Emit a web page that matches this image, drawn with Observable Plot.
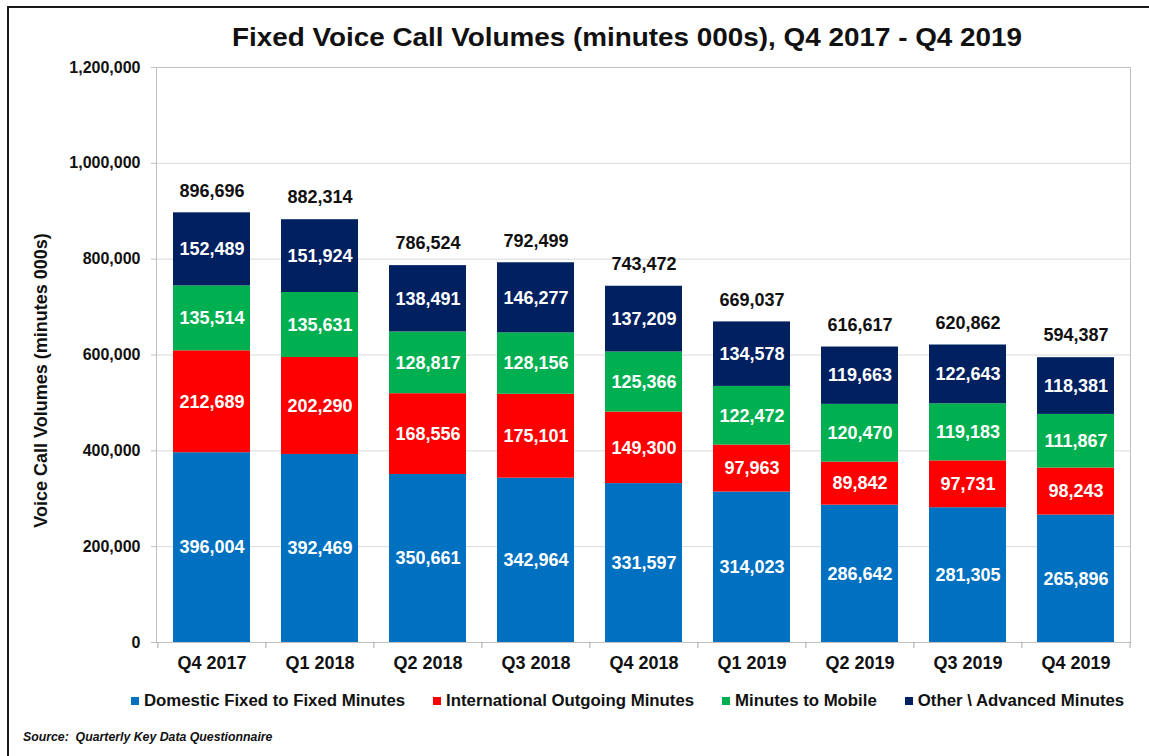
<!DOCTYPE html>
<html>
<head>
<meta charset="utf-8">
<script src="https://cdn.jsdelivr.net/npm/d3@7"></script>
<script src="https://cdn.jsdelivr.net/npm/@observablehq/plot@0.6"></script>
<style>
  html, body { margin: 0; padding: 0; background: #fff; }
  #wrap { position: relative; width: 1149px; height: 756px; overflow: hidden; font-family: "Liberation Sans", Arial, sans-serif; color: #111; }
  #frame { position: absolute; left: 7px; top: 6px; width: 1200px; height: 800px; border: 2px solid #1a1a1a; }
  #title { position: absolute; left: 232px; top: 22px; font-size: 25px; line-height: 30px; font-weight: bold; white-space: nowrap; transform-origin: 0 0; }
  #chart { position: absolute; left: 0; top: 55px; }
  #legend { position: absolute; left: 131px; top: 691px; display: flex; align-items: center; gap: 28px; font-size: 16.8px; font-weight: bold; line-height: 20px; white-space: nowrap; }
  .item { display: flex; align-items: center; }
  .sw { width: 8px; height: 8px; margin-right: 5px; }
  #source { position: absolute; left: 23px; top: 730px; font-size: 12.3px; line-height: 14px; font-weight: bold; font-style: italic; white-space: nowrap; }
</style>
</head>
<body>
<div id="wrap">
  <div id="frame"></div>
  <div id="title">Fixed Voice Call Volumes (minutes 000s), Q4 2017 - Q4 2019</div>
  <div id="chart"></div>
  <div id="legend"></div>
  <div id="source">Source:&nbsp; Quarterly Key Data Questionnaire</div>
</div>
<script>
const quarters = ["Q4 2017", "Q1 2018", "Q2 2018", "Q3 2018", "Q4 2018", "Q1 2019", "Q2 2019", "Q3 2019", "Q4 2019"];
const seriesNames = ["Domestic Fixed to Fixed Minutes", "International Outgoing Minutes", "Minutes to Mobile", "Other \\ Advanced Minutes"];
const seriesColors = ["#0070C0", "#FF0000", "#00B050", "#002060"];
const domestic = [396004, 392469, 350661, 342964, 331597, 314023, 286642, 281305, 265896];
const international = [212689, 202290, 168556, 175101, 149300, 97963, 89842, 97731, 98243];
const mobile = [135514, 135631, 128817, 128156, 125366, 122472, 120470, 119183, 111867];
const other = [152489, 151924, 138491, 146277, 137209, 134578, 119663, 122643, 118381];
const totals = [896696, 882314, 786524, 792499, 743472, 669037, 616617, 620862, 594387];
const yTicks = [0, 200000, 400000, 600000, 800000, 1000000, 1200000];

const seriesValues = [domestic, international, mobile, other];
const rows = [];
quarters.forEach((q, i) => {
  seriesNames.forEach((s, k) => rows.push({quarter: q, series: s, value: seriesValues[k][i]}));
});

const fmt = d3.format(",");
const W = 1149, H = 632, mL = 156, mR = 19, mT = 12, mB = 45;
const step = (W - mL - mR) / quarters.length;
const font = "Liberation Sans, Arial, sans-serif";

const plot = Plot.plot({
  width: W, height: H,
  marginLeft: mL, marginRight: mR, marginTop: mT, marginBottom: mB,
  style: {fontFamily: font, color: "#111", background: "transparent"},
  x: {domain: quarters, paddingInner: 0.29, paddingOuter: 0.145, label: null},
  y: {domain: [0, 1200000], label: null},
  color: {domain: seriesNames, range: seriesColors},
  marks: [
    Plot.gridY(yTicks, {stroke: "#d9d9d9", strokeOpacity: 1}),
    Plot.frame({stroke: "#bfbfbf"}),
    Plot.axisY(yTicks, {tickSize: 5, tickPadding: 11, stroke: "#bfbfbf", tickFormat: fmt, fontSize: 16, fontWeight: "bold", label: null}),
    Plot.axisX({tickSize: 0, tickPadding: 14, fontSize: 18, fontWeight: "bold", label: null}),
    Plot.ruleX(quarters, {x: d => d, dx: -step / 2, y1: 0, y2: 0, insetBottom: -6, stroke: "#a6a6a6"}),
    Plot.ruleX([quarters[quarters.length - 1]], {x: d => d, dx: step / 2, y1: 0, y2: 0, insetBottom: -6, stroke: "#a6a6a6"}),
    Plot.barY(rows, {x: "quarter", y: "value", fill: "series"}),
    Plot.text(rows, Plot.stackY({x: "quarter", y: "value", z: "series", text: d => fmt(d.value), fill: "white", fontSize: 18, fontWeight: "bold"})),
    Plot.text(quarters, {x: d => d, y: (d, i) => totals[i], text: (d, i) => fmt(totals[i]), dy: -22, fill: "#111", fontSize: 18, fontWeight: "bold"}),
    Plot.text(["Voice Call Volumes (minutes 000s)"], {frameAnchor: "left", textAnchor: "middle", text: d => d, rotate: -90, dx: -115, dy: 25.5, fontSize: 18, fontWeight: "bold", fill: "#111"})
  ]
});
document.getElementById("chart").appendChild(plot);

const legend = document.getElementById("legend");
seriesNames.forEach((s, k) => {
  const item = document.createElement("div");
  item.className = "item";
  const sw = document.createElement("span");
  sw.className = "sw";
  sw.style.background = seriesColors[k];
  const t = document.createElement("span");
  t.textContent = s;
  item.appendChild(sw);
  item.appendChild(t);
  legend.appendChild(item);
});

const title = document.getElementById("title");
const tw = title.getBoundingClientRect().width;
title.style.transform = `scaleX(${790 / tw})`;
</script>
</body>
</html>
